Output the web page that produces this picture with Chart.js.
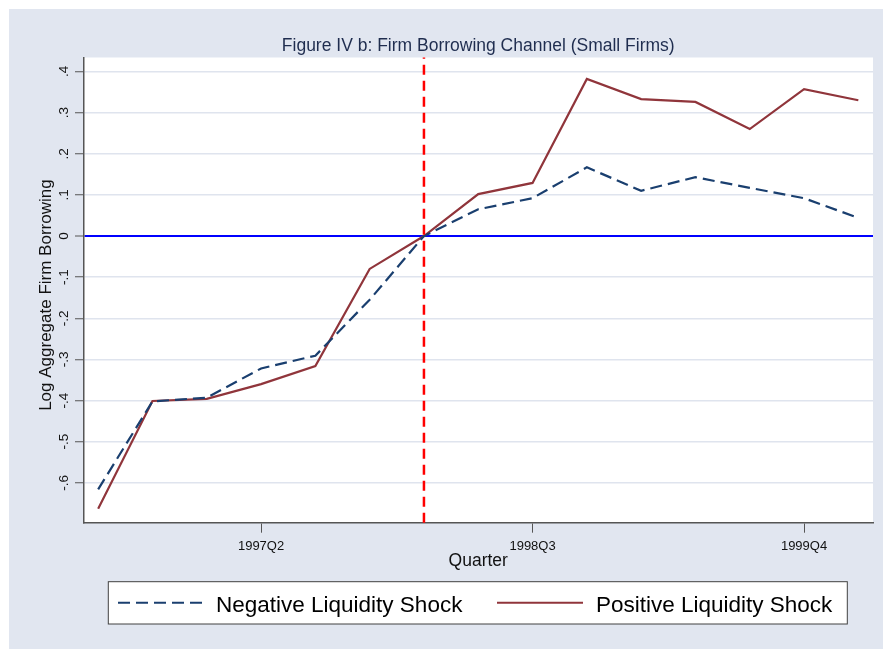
<!DOCTYPE html>
<html>
<head>
<meta charset="utf-8">
<script src="https://cdn.jsdelivr.net/npm/chart.js@4.4.1/dist/chart.umd.min.js"></script>
<style>
  html, body { margin: 0; padding: 0; background: #fff; }
  #wrap { position: absolute; left: 9px; top: 9px; width: 874px; height: 640px; background: #e1e6f0; }
</style>
</head>
<body>
<div id="wrap"><canvas id="chart"></canvas></div>
<script>
const quarters = ["1996Q3", "1996Q4", "1997Q1", "1997Q2", "1997Q3", "1997Q4", "1998Q1", "1998Q2",
  "1998Q3", "1998Q4", "1999Q1", "1999Q2", "1999Q3", "1999Q4", "2000Q1"];
const negativeShock = [-0.616, -0.402, -0.393, -0.322, -0.291, -0.155, 0, 0.065,
  0.092, 0.167, 0.110, 0.143, 0.117, 0.092, 0.044];
const positiveShock = [-0.663, -0.401, -0.396, -0.360, -0.316, -0.080, 0, 0.102,
  0.129, 0.382, 0.333, 0.326, 0.260, 0.357, 0.330];
const xTickLabels = ["1997Q2", "1998Q3", "1999Q4"];
const yTicks = [-0.6, -0.5, -0.4, -0.3, -0.2, -0.1, 0, 0.1, 0.2, 0.3, 0.4];
const shockQuarter = "1998Q1";

const FONT = '"Liberation Sans", Arial, Helvetica, sans-serif';
const NAVY = "#1a3f6f";
const MAROON = "#90353b";
const GRID = "#dfe4ee";

function fmtTick(v) {
  if (Math.abs(v) < 1e-9) return "0";
  return (v < 0 ? "-" : "") + "." + Math.round(Math.abs(v) * 10);
}

const decor = {
  id: "decor",
  beforeDraw(chart) {
    const { ctx, chartArea: a } = chart;
    ctx.save();
    ctx.fillStyle = "#fff";
    ctx.fillRect(a.left, a.top, a.right - a.left, a.bottom - a.top);
    ctx.restore();
  },
  afterDatasetsDraw(chart) {
    const { ctx, chartArea: a } = chart;
    const px = chart.scales.x.getPixelForValue(quarters.indexOf(shockQuarter));
    ctx.save();
    ctx.strokeStyle = "#ff0000";
    ctx.lineWidth = 2.5;
    ctx.setLineDash([10, 6]);
    ctx.beginPath();
    ctx.moveTo(px, a.bottom);
    ctx.lineTo(px, a.top);
    ctx.stroke();
    ctx.restore();
  },
  afterDraw(chart) {
    const { ctx, chartArea: a } = chart;
    const xs = chart.scales.x, ys = chart.scales.y;
    const midX = (a.left + a.right) / 2;
    ctx.save();

    // title
    ctx.fillStyle = "#1f2d4f";
    ctx.font = "17.5px " + FONT;
    ctx.textAlign = "center";
    ctx.textBaseline = "alphabetic";
    ctx.fillText("Figure IV b: Firm Borrowing Channel (Small Firms)", midX, a.top - 7);

    // y tick labels (rotated)
    ctx.fillStyle = "#111";
    ctx.font = "13.5px " + FONT;
    ys.ticks.forEach((t) => {
      const py = ys.getPixelForValue(t.value);
      ctx.save();
      ctx.translate(a.left - 15.5, py);
      ctx.rotate(-Math.PI / 2);
      ctx.fillText(fmtTick(t.value), 0, 0);
      ctx.restore();
    });

    // y title
    ctx.font = "17px " + FONT;
    ctx.save();
    ctx.translate(a.left - 32.5, (a.top + a.bottom) / 2 + 5);
    ctx.rotate(-Math.PI / 2);
    ctx.fillText("Log Aggregate Firm Borrowing", 0, 0);
    ctx.restore();

    // x tick labels
    ctx.font = "13px " + FONT;
    xs.ticks.forEach((t) => {
      ctx.fillText(quarters[t.value], xs.getPixelForValue(t.value), a.bottom + 27);
    });

    // x title
    ctx.font = "17.5px " + FONT;
    ctx.fillText("Quarter", midX, a.bottom + 43);

    // legend
    const lx = 99.3, ly = 572.7, lw = 739, lh = 42.3;
    ctx.fillStyle = "#fff";
    ctx.fillRect(lx, ly, lw, lh);
    ctx.strokeStyle = "#404040";
    ctx.lineWidth = 1;
    ctx.strokeRect(lx, ly, lw, lh);
    const cy = ly + lh / 2;
    const items = chart.data.datasets.map((d, i) => ({
      label: d.label, color: d.borderColor, dash: d.borderDash || [],
      x0: i === 0 ? 109 : 488, x1: i === 0 ? 194 : 574, tx: i === 0 ? 207 : 587
    }));
    items.forEach((it) => {
      ctx.strokeStyle = it.color;
      ctx.lineWidth = 2;
      ctx.setLineDash(it.dash);
      ctx.beginPath();
      ctx.moveTo(it.x0, cy);
      ctx.lineTo(it.x1, cy);
      ctx.stroke();
      ctx.setLineDash([]);
      ctx.fillStyle = "#000";
      ctx.font = "22.5px " + FONT;
      ctx.textAlign = "left";
      ctx.fillText(it.label, it.tx, ly + 30);
    });
    ctx.restore();
  }
};

const xTickValues = xTickLabels.map((q) => quarters.indexOf(q));

new Chart(document.getElementById("chart"), {
  type: "line",
  data: {
    datasets: [
      {
        label: "Negative Liquidity Shock",
        data: negativeShock.map((v, i) => ({ x: i, y: v })),
        borderColor: NAVY,
        borderWidth: 2.2,
        borderDash: [12, 6],
        pointRadius: 0,
        fill: false,
        tension: 0,
      },
      {
        label: "Positive Liquidity Shock",
        data: positiveShock.map((v, i) => ({ x: i, y: v })),
        borderColor: MAROON,
        borderWidth: 2.2,
        pointRadius: 0,
        fill: false,
        tension: 0,
      },
    ],
  },
  options: {
    responsive: true,
    maintainAspectRatio: false,
    animation: false,
    layout: { padding: { left: 66, top: 48.5, right: 10, bottom: 116.3 } },
    plugins: { legend: { display: false }, tooltip: { enabled: false }, title: { display: false } },
    scales: {
      x: {
        type: "linear",
        min: -0.27,
        max: 14.27,
        afterBuildTicks: (s) => { s.ticks = xTickValues.map((v) => ({ value: v })); },
        ticks: { display: false },
        grid: { display: true, drawOnChartArea: false, drawTicks: true, tickLength: 10, tickColor: "#555", tickWidth: 1 },
        border: { display: true, color: "#555", width: 1.5 },
      },
      y: {
        type: "linear",
        min: -0.697,
        max: 0.434,
        afterBuildTicks: (s) => { s.ticks = yTicks.map((v) => ({ value: v })); },
        ticks: { display: false },
        grid: {
          color: (c) => (c.tick && Math.abs(c.tick.value) < 1e-9 ? "#0000ff" : GRID),
          lineWidth: (c) => (c.tick && Math.abs(c.tick.value) < 1e-9 ? 2 : 1.5),
          drawTicks: true,
          tickLength: 8.5,
          tickColor: "#555",
          tickWidth: 1,
        },
        border: { display: true, color: "#555", width: 1.5 },
      },
    },
  },
  plugins: [decor],
});
</script>
</body>
</html>
